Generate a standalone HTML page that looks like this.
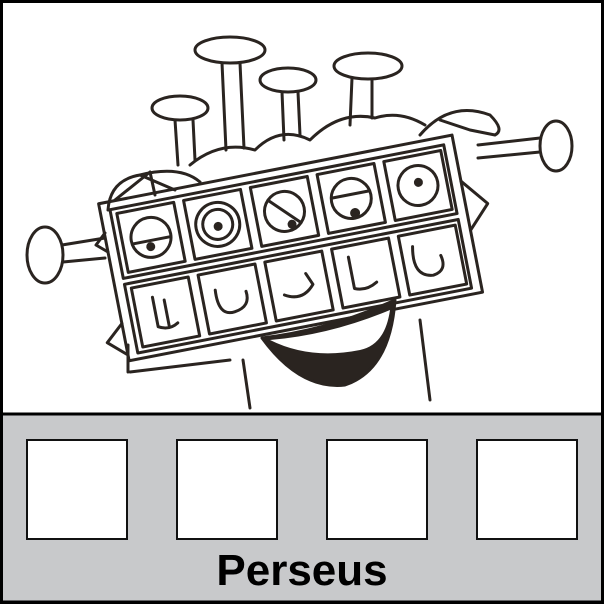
<!DOCTYPE html>
<html><head><style>
html,body{margin:0;padding:0;background:#fff}
.wrap{position:relative;width:604px;height:604px;overflow:hidden}
svg{position:absolute;left:0;top:0}
.t{position:absolute;left:0;width:604px;top:546px;text-align:center;font:bold 44px "Liberation Sans",sans-serif;color:#000}
</style></head><body><div class="wrap">
<svg width="604" height="604" viewBox="0 0 604 604">
<rect x="1.5" y="1.5" width="601" height="601" fill="#fff" stroke="#000" stroke-width="3"/>
<g fill="none" stroke="#2a2420" stroke-width="3" stroke-linecap="round" stroke-linejoin="round">
<ellipse cx="230" cy="50" rx="35" ry="13"/><path d="M222 63 L226 150 M240 63 L244 148"/>
<ellipse cx="288" cy="80" rx="28" ry="12"/><path d="M282 92 L284 140 M298 92 L300 135"/>
<ellipse cx="368" cy="66" rx="34" ry="13"/><path d="M352 78 L350 125 M372 80 L372 118"/>
<ellipse cx="180" cy="108" rx="28" ry="12"/><path d="M175 120 L178 165 M193 120 L195 160"/>
<path d="M190 165 Q220 140 255 150 Q280 125 310 140 Q340 110 375 118 Q400 110 425 125"/>
<path d="M108 210 Q110 180 140 175 Q180 165 200 182"/>
<path d="M115 200 L150 172 L155 195 M140 175 L175 190"/>
<path d="M420 135 Q450 100 490 115 Q505 130 495 135 L470 130 L440 120"/>
<ellipse cx="45" cy="255" rx="18" ry="28"/><path d="M62 245 L105 238 M63 262 L105 258"/>
<path d="M105 233 L96 245 L108 252"/>
<ellipse cx="556" cy="146" rx="16" ry="25"/><path d="M478 145 L540 138 M478 158 L540 152"/>
<g transform="rotate(-11 290 245)">
<rect x="110" y="168" width="360" height="160"/>
<rect x="120" y="176" width="340" height="70"/>
<rect x="120" y="252" width="340" height="70"/>
<rect x="126" y="181" width="58" height="60"/><rect x="194" y="181" width="58" height="60"/><rect x="262" y="181" width="58" height="60"/><rect x="330" y="181" width="58" height="60"/><rect x="398" y="181" width="58" height="60"/>
<rect x="126" y="257" width="58" height="60"/><rect x="194" y="257" width="58" height="60"/><rect x="262" y="257" width="58" height="60"/><rect x="330" y="257" width="58" height="60"/><rect x="398" y="257" width="58" height="60"/>
<circle cx="155" cy="211" r="20"/><circle cx="223" cy="211" r="22"/><circle cx="223" cy="211" r="15"/><circle cx="291" cy="211" r="20"/><circle cx="359" cy="211" r="20"/><circle cx="427" cy="211" r="20"/>
<path d="M136 214 L174 214 M277 197 L305 225 M340 207 L378 207"/>
<path d="M145 270 L145 300 Q155 306 165 300 M156 275 L156 302 M208 275 Q206 302 223 300 Q240 298 238 282 M275 293 Q292 303 305 288 L300 276 M345 268 L345 300 Q356 305 368 298 M410 270 Q404 300 425 302 Q440 300 436 284"/>
<path d="M470 215 L492 242 L470 265"/>
<path d="M110 290 L92 306 L110 322"/>
<g fill="#2a2420" stroke="none"><circle cx="153" cy="220" r="4.5"/><circle cx="223" cy="213" r="4.5"/><circle cx="296" cy="225" r="4.5"/><circle cx="360" cy="226" r="5"/><circle cx="428" cy="208" r="4.5"/></g>
</g>
<path d="M262 338 Q330 330 395 300 Q390 370 345 385 Q300 390 262 338 Z" fill="#2a2420"/>
<path d="M270 340 Q330 335 390 310 Q385 345 360 350 Q310 360 270 340 Z" fill="#fff" stroke="none"/>
<path d="M130 372 L230 360 M243 360 L250 408 M420 320 L430 400 M128 345 L128 372"/>
</g>
<rect x="1.5" y="414" width="601" height="188" fill="#c8c9cb" stroke="#000" stroke-width="3"/>
<g fill="#fff" stroke="#111" stroke-width="2">
<rect x="27" y="440" width="100" height="99"/><rect x="177" y="440" width="100" height="99"/><rect x="327" y="440" width="100" height="99"/><rect x="477" y="440" width="100" height="99"/>
</g>
</svg>
<div class="t">Perseus</div>
</div></body></html>
